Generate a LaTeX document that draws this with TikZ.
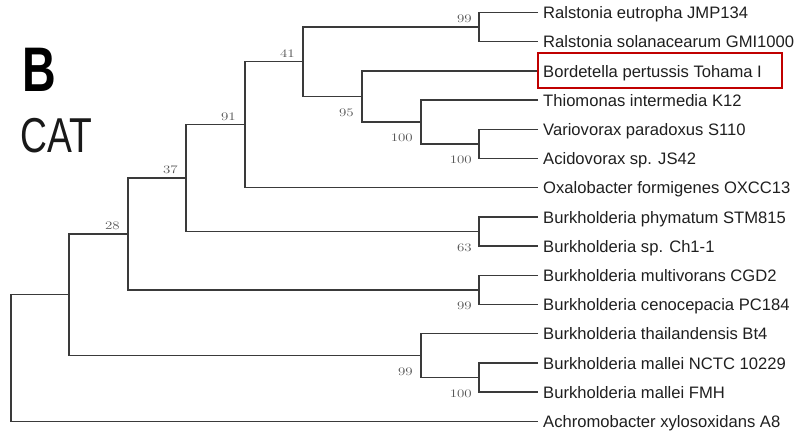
\documentclass[tikz,border=0pt]{standalone}
\usepackage{fontspec}
\setmainfont{Liberation Sans}
\newfontfamily\supfont{Latin Modern Roman}
\usetikzlibrary{calc}
\definecolor{branchgray}{HTML}{3A3A3A}
\definecolor{supgray}{HTML}{555555}
\definecolor{boxred}{HTML}{C00000}
\tikzset{
  branch/.style={draw=branchgray, line width=1.3pt},
  leaf/.style={anchor=west, inner xsep=5pt, inner ysep=0pt, text height=15pt, text depth=2.7pt,
    font=\fontsize{16.6}{18}\selectfont, text=black!88},
  supabove/.style={anchor=base east, inner sep=0pt, text=supgray,
    font=\supfont\fontsize{11.5}{12}\selectfont, xscale=1.3, transform shape},
  supbelow/.style={supabove},
}
\begin{document}
\begin{tikzpicture}[x=1pt, y=-1pt]
\useasboundingbox (0,0) rectangle (804,433);

% panel heading
\node[anchor=base west, inner sep=0pt, font=\bfseries\fontsize{63}{63}\selectfont, xscale=0.74, transform shape] (panel) at (22,92) {B};
\node[anchor=base west, inner sep=0pt, font=\fontsize{49}{49}\selectfont, xscale=0.76, transform shape, text=black!90] (gene) at (20,153) {CAT};

% leaves
\foreach \i/\name in {
  1/Ralstonia eutropha JMP134,
  2/Ralstonia solanacearum GMI1000,
  3/Bordetella pertussis Tohama I,
  4/Thiomonas intermedia K12,
  5/Variovorax paradoxus S110,
  6/Acidovorax sp. JS42,
  7/Oxalobacter formigenes OXCC13,
  8/Burkholderia phymatum STM815,
  9/Burkholderia sp. Ch1-1,
  10/Burkholderia multivorans CGD2,
  11/Burkholderia cenocepacia PC184,
  12/Burkholderia thailandensis Bt4,
  13/Burkholderia mallei NCTC 10229,
  14/Burkholderia mallei FMH,
  15/Achromobacter xylosoxidans A8}
  \node[leaf] (L\i) at (538, {12.5+29.2*(\i-1)}) {\name};

% internal nodes
\coordinate (n12)   at (479, 27.1);
\coordinate (n56)   at (479, 143.9);
\coordinate (n4)    at (421, 122);
\coordinate (n3)    at (362, 96.45);
\coordinate (n41)   at (303, 61.8);
\coordinate (n91)   at (245, 124.75);
\coordinate (n89)   at (479, 231.5);
\coordinate (n37)   at (186, 178.1);
\coordinate (n1011) at (479, 289.9);
\coordinate (n28)   at (128, 234);
\coordinate (n1314) at (479, 377.5);
\coordinate (n12b)  at (421, 355.6);
\coordinate (n69)   at (69, 294.8);
\coordinate (root)  at (11, 358);

% branches
\draw[branch] (L1.west) -| (n12) |- (L2.west);
\draw[branch] (L5.west) -| (n56) |- (L6.west);
\draw[branch] (L4.west) -| (n4) |- (n56);
\draw[branch] (L3.west) -| (n3) |- (n4);
\draw[branch] (n12) -| (n41) |- (n3);
\draw[branch] (n41) -| (n91) |- (L7.west);
\draw[branch] (L8.west) -| (n89) |- (L9.west);
\draw[branch] (n91) -| (n37) |- (n89);
\draw[branch] (L10.west) -| (n1011) |- (L11.west);
\draw[branch] (n37) -| (n28) |- (n1011);
\draw[branch] (L13.west) -| (n1314) |- (L14.west);
\draw[branch] (L12.west) -| (n12b) |- (n1314);
\draw[branch] (n28) -| (n69) |- (n12b);
\draw[branch] (n69) -| (root) |- (L15.west);

% highlighted taxon
\draw[boxred, line width=2pt] ($(L3.west)+(0,-17.5)$) rectangle ($(L3.west)+(244,17)$);

% bootstrap values
\node[supabove] at ($(n12)+(-7,-4.5)$) {99};
\node[supabove] at ($(n41)+(-8,-4.5)$) {41};
\node[supabove] at ($(n91)+(-9,-4.5)$) {91};
\node[supabove] at ($(n37)+(-8,-4.5)$) {37};
\node[supabove] at ($(n28)+(-8,-4.5)$) {28};
\node[supbelow] at ($(n3)+(-8,20)$) {95};
\node[supbelow] at ($(n4)+(-8,20)$) {100};
\node[supbelow] at ($(n56)+(-7,20)$) {100};
\node[supbelow] at ($(n89)+(-7,20)$) {63};
\node[supbelow] at ($(n1011)+(-7,20)$) {99};
\node[supbelow] at ($(n12b)+(-8,20)$) {99};
\node[supbelow] at ($(n1314)+(-7,20)$) {100};
\end{tikzpicture}
\end{document}
